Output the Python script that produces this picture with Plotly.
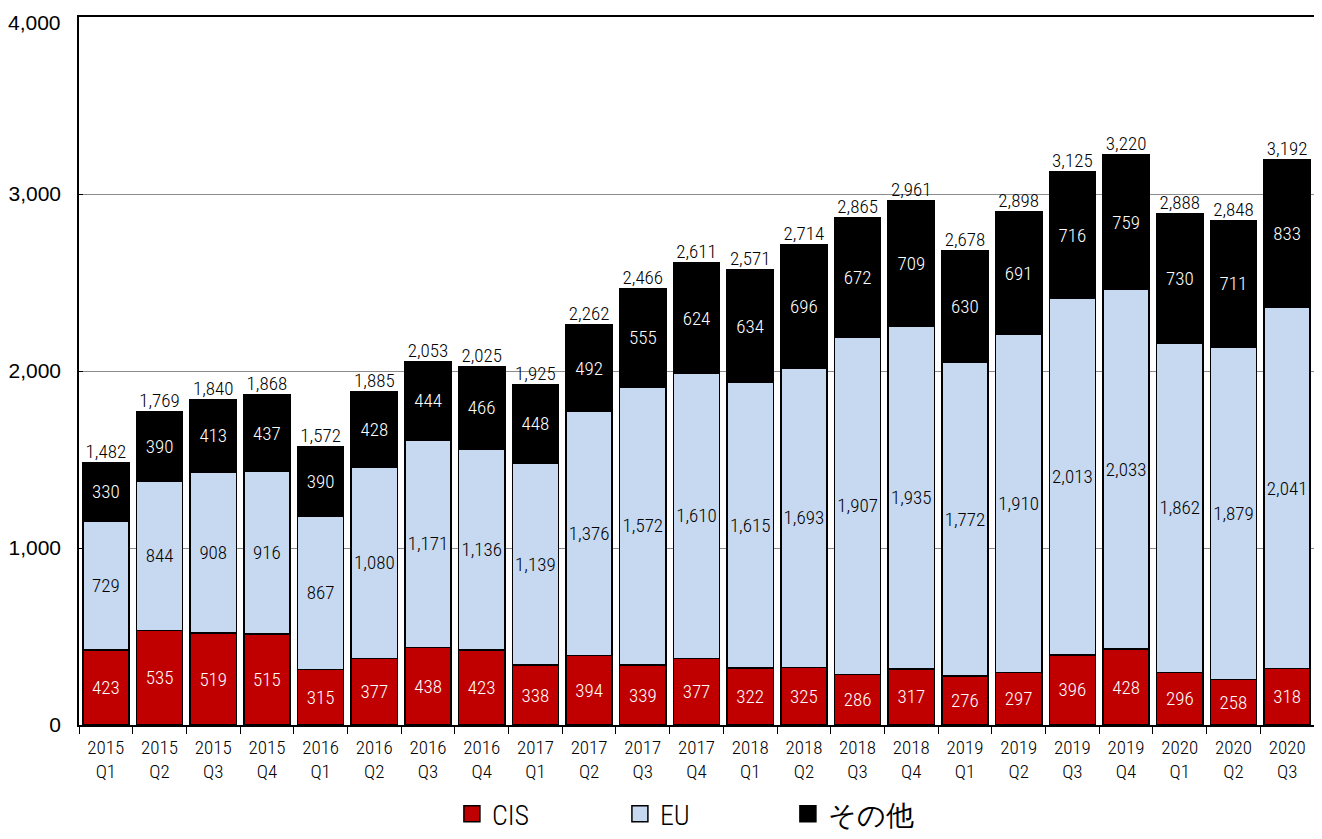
import plotly.graph_objects as go

quarters = ["2015<br>Q1", "2015<br>Q2", "2015<br>Q3", "2015<br>Q4",
            "2016<br>Q1", "2016<br>Q2", "2016<br>Q3", "2016<br>Q4",
            "2017<br>Q1", "2017<br>Q2", "2017<br>Q3", "2017<br>Q4",
            "2018<br>Q1", "2018<br>Q2", "2018<br>Q3", "2018<br>Q4",
            "2019<br>Q1", "2019<br>Q2", "2019<br>Q3", "2019<br>Q4",
            "2020<br>Q1", "2020<br>Q2", "2020<br>Q3"]
cis = [423, 535, 519, 515, 315, 377, 438, 423, 338, 394, 339, 377,
       322, 325, 286, 317, 276, 297, 396, 428, 296, 258, 318]
eu = [729, 844, 908, 916, 867, 1080, 1171, 1136, 1139, 1376, 1572, 1610,
      1615, 1693, 1907, 1935, 1772, 1910, 2013, 2033, 1862, 1879, 2041]
other = [330, 390, 413, 437, 390, 428, 444, 466, 448, 492, 555, 624,
         634, 696, 672, 709, 630, 691, 716, 759, 730, 711, 833]
totals = [1482, 1769, 1840, 1868, 1572, 1885, 2053, 2025, 1925, 2262, 2466, 2611,
          2571, 2714, 2865, 2961, 2678, 2898, 3125, 3220, 2888, 2848, 3192]
y_ticks = [0, 1000, 2000, 3000, 4000]

NARROW = "Roboto Condensed, Liberation Sans Narrow, Arial Narrow, sans-serif"
WIDE = "Liberation Sans, Arial, sans-serif"
W = 350

fig = go.Figure()

series = [
    ("CIS", cis, "#c00000", "white"),
    ("EU", eu, "#c6d9f1", "black"),
    ("その他", other, "#000000", "white"),
]
for name, vals, color, tcolor in series:
    fig.add_trace(go.Bar(
        name=name, x=quarters, y=vals,
        marker=dict(color=color, line=dict(color="black", width=1.5)),
        text=[f"{v:,}" for v in vals],
        textposition="inside",
        insidetextanchor="middle",
        textangle=0,
        constraintext="none",
        textfont=dict(color=tcolor, size=19, family=NARROW, weight=W),
        showlegend=False,
    ))
    # legend entry with a bigger outlined square
    fig.add_trace(go.Scatter(
        name=name, x=[None], y=[None], mode="markers",
        marker=dict(symbol="square", size=17, color=color,
                    line=dict(color="black", width=1.5)),
    ))

# Totals above each stack
fig.add_trace(go.Scatter(
    x=quarters, y=totals,
    mode="text",
    text=[f"{v:,}" for v in totals],
    textposition="top center",
    textfont=dict(color="black", size=19, family=NARROW, weight=W),
    showlegend=False,
    hoverinfo="skip",
))

# top y label nudged down a little so it stays inside the page
fig.add_annotation(
    x=0, xref="paper", xanchor="right", xshift=-16,
    y=y_ticks[-1], yref="y", yanchor="middle", yshift=-5,
    text=f"{y_ticks[-1]:,}", showarrow=False,
    font=dict(size=21, family=WIDE, color="black"),
)

# page body has an 8px margin, so the figure is sized to fit inside it
fig.update_layout(
    barmode="stack",
    bargap=0.14,
    width=1314, height=831,
    paper_bgcolor="white",
    plot_bgcolor="white",
    margin=dict(l=71, r=8, t=9, b=114, autoexpand=False),
    font=dict(family=NARROW, color="black", weight=W),
    uniformtext=dict(minsize=19, mode="show"),
    legend=dict(orientation="h", x=0.506, xanchor="center", y=-0.161, yanchor="bottom",
                font=dict(size=28, family=NARROW, weight=W), entrywidth=123,
                itemsizing="trace", traceorder="normal"),
    xaxis=dict(range=[-0.5, 22.5], automargin=False,
               showline=True, linecolor="black", linewidth=1.5, mirror=True,
               ticks="outside", ticklen=7, tickcolor="black", tickson="boundaries",
               ticklabelstandoff=4,
               tickfont=dict(size=19, family=NARROW, weight=W)),
    yaxis=dict(range=[0, 4000], tickvals=y_ticks[:-1], tickformat=",", automargin=False,
               showgrid=True, gridcolor="#8c8c8c", gridwidth=1,
               showline=True, linecolor="black", linewidth=1.5, mirror=True,
               ticks="inside", ticklen=4, tickcolor="black",
               ticklabelstandoff=12,
               tickfont=dict(size=21, family=WIDE),
               zeroline=False),
)

fig.write_html("out.html")
